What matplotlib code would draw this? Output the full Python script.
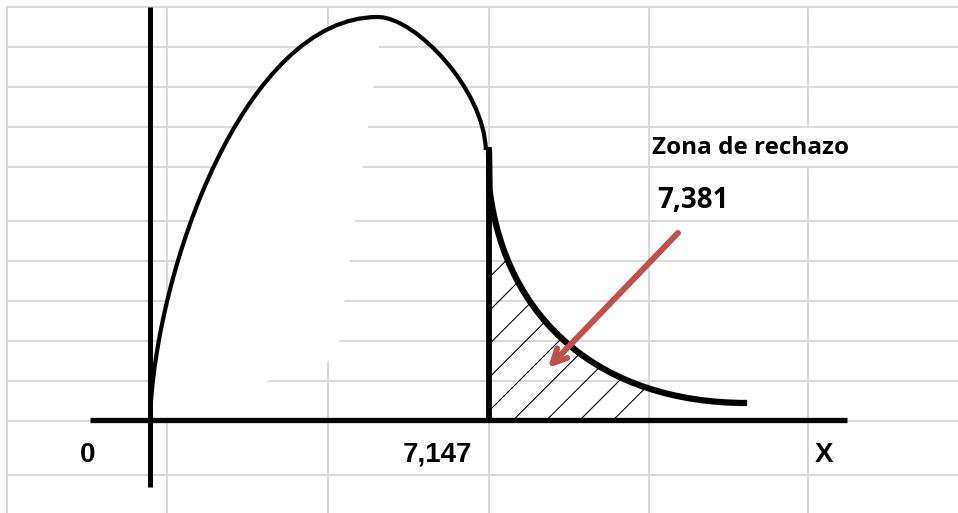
import numpy as np
import matplotlib
matplotlib.use('Agg')
import matplotlib.pyplot as plt
from matplotlib.path import Path
from matplotlib.patches import PathPatch, Rectangle

# curva (dibujada a mano, trazos Bezier) en unidades del eje X y densidad arbitraria
# arco izquierdo: inicio, control1, control2, pico, control1, control2, final
arco_x = [0, 0.1, 2.0, 4.8, 5.6, 7.05, 7.08]
arco_y = [0, 0.15, 0.403, 0.403, 0.403, 0.33, 0.27]

# cola derecha: arranque, quiebre, control1, control2, final
cola_x = [7.147, 7.16, 7.5, 9.5, 12.59]
cola_y = [0.27, 0.23, 0.10, 0.017, 0.017]

valor_critico = 7.147
limite_rayado = 10.5
valor_calc = '7,381'
etiquetas_x = ['0', '7,147', 'X']
etiquetas_pos = [-1.31, 6.07, 14.21]

# borde del relleno blanco que tapa la cuadricula (desde el pico hacia abajo)
blanco_x = [4.87, 3.96, 3.75, 2.47, 1.9]
blanco_y = [0.39, 0.07, 0.058, 0.039, 0.0]

C4 = Path.CURVE4

# --- figura ---
W, H = 958, 513
fig = plt.figure(figsize=(W / 100, H / 100), dpi=100)

# fondo tipo hoja de calculo (pixeles)
bg = fig.add_axes([0, 0, 1, 1])
bg.set_xlim(0, W)
bg.set_ylim(H, 0)
bg.axis('off')
gris = '#d9d9d9'
cols = [7, 167, 328, 489, 649, 808]
filas = [7, 47, 87, 127, 167, 221, 261, 301, 341, 381, 421, 475]
for c in cols:
    if c == 808:
        bg.plot([c, c], [7, 127], color=gris, lw=1.5)
        bg.plot([c, c], [167, H], color=gris, lw=1.5)
    else:
        bg.plot([c, c], [7, H], color=gris, lw=1.5)
for f in filas:
    bg.plot([7, W], [f, f], color=gris, lw=1.5)

# ejes del grafico en unidades de datos
sx = 339 / valor_critico   # px por unidad
sy = 1000.0                # px por unidad
ax = fig.add_axes([0, 0, 1, 1])
ax.patch.set_alpha(0)
ax.set_xlim(-150 / sx, (W - 150) / sx)
ax.set_ylim((420 - H) / sy, 420 / sy)
ax.axis('off')

arco_pts = list(zip(arco_x, arco_y))
cola_pts = list(zip(cola_x, cola_y))

# relleno blanco
verts = arco_pts[:4] + list(zip(blanco_x, blanco_y)) + [arco_pts[0]]
codes = [Path.MOVETO, C4, C4, C4] + [Path.LINETO] * len(blanco_x) + [Path.CLOSEPOLY]
ax.add_patch(PathPatch(Path(verts, codes), facecolor='white', lw=0, zorder=1))

# zona de rechazo rayada, recortada bajo la cola
verts = cola_pts + [(cola_x[-1], 0), (valor_critico, 0), cola_pts[0]]
codes = [Path.MOVETO, Path.LINETO, C4, C4, C4, Path.LINETO, Path.LINETO, Path.CLOSEPOLY]
bajo_cola = PathPatch(Path(verts, codes), facecolor='none', lw=0)
ax.add_patch(bajo_cola)
bajo_cola.set_visible(False)
plt.rcParams['hatch.linewidth'] = 0.8
rayado = Rectangle((valor_critico, 0), limite_rayado - valor_critico, 0.16,
                   facecolor='none', edgecolor='black', hatch='/', lw=0, zorder=2)
ax.add_patch(rayado)
rayado.set_clip_path(bajo_cola)

# ejes dibujados
ax.plot([-1.265, 14.70], [0, 0], color='black', lw=3.8, zorder=4, solid_capstyle='butt')
ax.plot([0, 0], [0.413, -0.067], color='black', lw=3.6, zorder=4, solid_capstyle='butt')

# curva
path_arco = Path(arco_pts, [Path.MOVETO, C4, C4, C4, C4, C4, C4])
ax.add_patch(PathPatch(path_arco, facecolor='none', edgecolor='black', lw=3.0, zorder=3))
ax.plot([valor_critico, valor_critico], [arco_y[-1], 0], color='black', lw=4.2, zorder=3)
path_cola = Path(cola_pts, [Path.MOVETO, Path.LINETO, C4, C4, C4])
ax.add_patch(PathPatch(path_cola, facecolor='none', edgecolor='black', lw=4.5,
                       capstyle='butt', zorder=3))

# textos
for t, p in zip(etiquetas_x, etiquetas_pos):
    ax.text(p, -0.035, t, ha='center', va='center', fontsize=20,
            fontweight='bold', family=['Liberation Sans', 'DejaVu Sans'])

ax.text(10.58, 0.272, 'Zona de rechazo', ha='left', va='center', fontsize=17.5,
        fontweight='bold', family=['Open Sans', 'DejaVu Sans'])
ax.text(10.69, 0.219, valor_calc, ha='left', va='center', fontsize=20,
        fontweight='bold', family=['Open Sans', 'DejaVu Sans'])

ax.annotate('', xy=(8.39, 0.052), xytext=(11.13, 0.187),
            arrowprops=dict(arrowstyle='->,head_length=1.0,head_width=0.5',
                            color='#c0504d', lw=4.3, shrinkA=0, shrinkB=0),
            zorder=5)

fig.savefig('out.png', dpi=100)
